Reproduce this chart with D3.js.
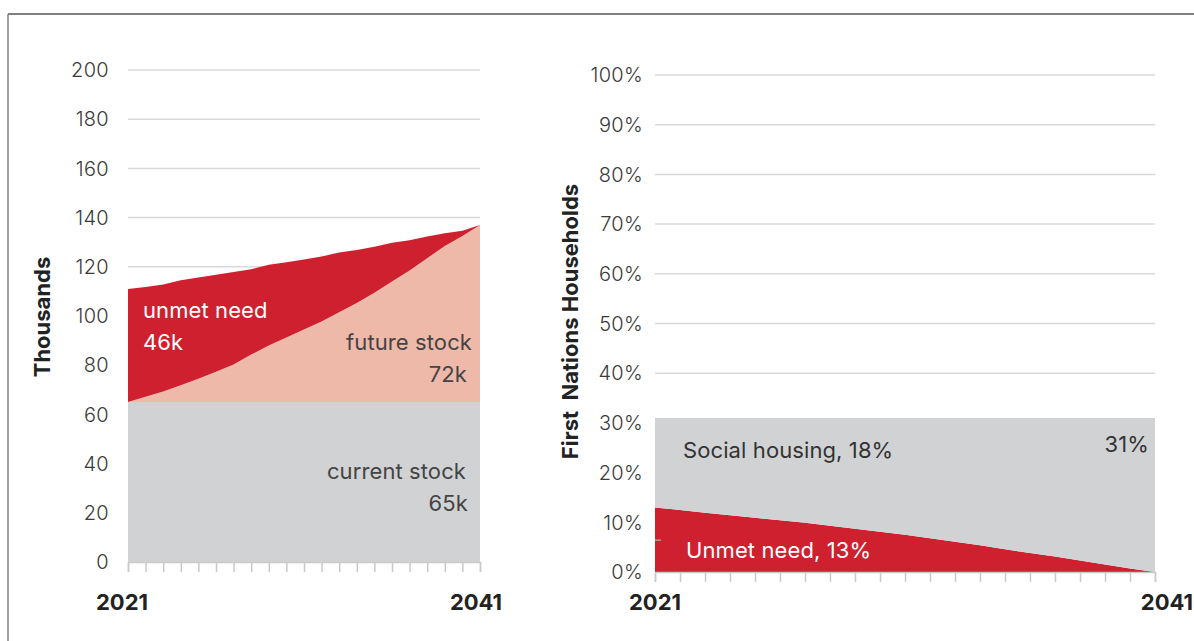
<!DOCTYPE html>
<html>
<head>
<meta charset="utf-8">
<script src="https://cdn.jsdelivr.net/npm/d3@7"></script>
<style>
  html, body { margin: 0; padding: 0; background: #fff; }
  svg { display: block; }
  text { font-family: Inter, "Open Sans", sans-serif; }
</style>
</head>
<body>
<svg id="chart" width="1194" height="641"></svg>
<script>
// Years covered by both panels
const years = d3.range(2021, 2042);

// Left panel (thousands of dwellings)
const currentStock = years.map(() => 65);
const futureStock = [0, 2.2, 4.3, 6.8, 9.5, 12.3, 15.3, 19.3, 23, 26.3, 29.5, 32.8, 36.5, 40.3, 44.5, 49, 53.5, 58.5, 63.5, 67.5, 72];
const unmetNeedK = [46, 44.6, 43.5, 42.7, 41.1, 39.5, 37.6, 34.7, 32.8, 30.6, 28.5, 26.4, 24.3, 21.5, 18.7, 15.8, 12.3, 8.8, 5.1, 2.2, 0];
const leftTicks = [0, 20, 40, 60, 80, 100, 120, 140, 160, 180, 200];

// Right panel (share of First Nations households, %)
const unmetNeedPct = [13, 12.5, 11.9, 11.4, 10.9, 10.4, 9.9, 9.3, 8.7, 8.1, 7.5, 6.8, 6.1, 5.4, 4.6, 3.8, 3.1, 2.3, 1.5, 0.7, 0];
const socialHousingPct = [18, 18.5, 19.1, 19.6, 20.1, 20.6, 21.1, 21.7, 22.3, 22.9, 23.5, 24.2, 24.9, 25.6, 26.4, 27.2, 27.9, 28.7, 29.5, 30.3, 31];
const rightTicks = [0, 10, 20, 30, 40, 50, 60, 70, 80, 90, 100];

const yearLabels = [2021, 2041];

const COLORS = {
  red: "#cf202f",
  salmon: "#efb9aa",
  grey: "#d1d2d4",
  grid: "#d9d9d9",
  tick: "#c9c9c9",
  text: "#3a3a3a"
};

const YEAR_LABEL_Y = 610;

const svg = d3.select("#chart");

// Outer frame
svg.append("line").attr("x1", 8).attr("x2", 1194).attr("y1", 14).attr("y2", 14)
  .attr("stroke", "#808080").attr("stroke-width", 2);
svg.append("line").attr("x1", 8).attr("x2", 8).attr("y1", 14).attr("y2", 641)
  .attr("stroke", "#808080").attr("stroke-width", 1.5);

function drawPanel(opts) {
  const { x, y, ticks, tickFmt, labelX } = opts;
  const g = svg.append("g");

  // gridlines
  g.append("g").selectAll("line").data(ticks.filter(t => t !== 0)).join("line")
    .attr("x1", x.range()[0]).attr("x2", x.range()[1])
    .attr("y1", d => y(d)).attr("y2", d => y(d))
    .attr("stroke", COLORS.grid).attr("stroke-width", 1.5);

  // y tick labels
  g.append("g").selectAll("text").data(ticks).join("text")
    .attr("x", labelX).attr("y", d => y(d))
    .attr("dy", "0.36em")
    .attr("text-anchor", "end")
    .attr("font-size", 20)
    .attr("font-weight", 300)
    .attr("letter-spacing", 0.3)
    .attr("fill", COLORS.text)
    .text(tickFmt);

  return g;
}

// x axis: one tick per year, labels only at the two ends
function drawXAxis(g, x, y0, labelX, anchors) {
  const axis = d3.axisBottom(x).tickValues(years).tickSize(10).tickFormat("");
  const ax = g.append("g").attr("transform", `translate(0,${y0})`).call(axis);
  ax.select(".domain").attr("stroke", COLORS.tick).attr("stroke-width", 1.5);
  ax.selectAll(".tick line").attr("stroke", COLORS.tick).attr("stroke-width", 1.5);

  g.append("g").selectAll("text").data(yearLabels).join("text")
    .attr("x", (d, i) => labelX[i])
    .attr("y", YEAR_LABEL_Y)
    .attr("text-anchor", (d, i) => anchors[i])
    .attr("font-family", "'Liberation Sans', Arial, sans-serif")
    .attr("font-size", 22)
    .attr("font-weight", 700)
    .attr("fill", "#222")
    .text(d => d);
}

const lbl = (g, x, y, txt, anchor, fill) => g.append("text")
  .attr("x", x).attr("y", y).attr("text-anchor", anchor)
  .attr("font-size", 22).attr("letter-spacing", 0.1)
  .attr("fill", fill).text(txt);

// ---------- Left panel ----------
const xL = d3.scaleLinear().domain([2021, 2041]).range([128, 480]);
const yL = d3.scaleLinear().domain([0, 200]).range([562, 70]);

const gL = drawPanel({ x: xL, y: yL, ticks: leftTicks, tickFmt: d => d, labelX: 109 });

const leftRows = years.map((yr, i) => ({
  year: yr, current: currentStock[i], future: futureStock[i], unmet: unmetNeedK[i]
}));
const leftStack = d3.stack().keys(["current", "future", "unmet"])(leftRows);
const leftFill = { current: COLORS.grey, future: COLORS.salmon, unmet: COLORS.red };
const areaL = d3.area()
  .x(d => xL(d.data.year))
  .y0(d => yL(d[0]))
  .y1(d => yL(d[1]));

gL.append("g").selectAll("path").data(leftStack).join("path")
  .attr("d", areaL)
  .attr("fill", d => leftFill[d.key]);

drawXAxis(gL, xL, yL(0), [xL(2021) - 6, xL(2041) - 4], ["middle", "middle"]);

lbl(gL, 143, 318, "unmet need", "start", "#fff");
lbl(gL, 143, 350, `${unmetNeedK[0]}k`, "start", "#fff");
lbl(gL, 472, 350, "future stock", "end", "#444");
lbl(gL, 467, 382, `${futureStock[futureStock.length - 1]}k`, "end", "#444");
lbl(gL, 466, 479, "current stock", "end", "#444");
lbl(gL, 468, 511, `${currentStock[0]}k`, "end", "#444");

gL.append("text")
  .attr("transform", `translate(50,${yL(100) + 1}) rotate(-90)`)
  .attr("text-anchor", "middle")
  .attr("font-size", 22).attr("font-weight", 700).attr("fill", "#222")
  .text("Thousands");

// ---------- Right panel ----------
const xR = d3.scaleLinear().domain([2021, 2041]).range([655, 1155]);
const yR = d3.scaleLinear().domain([0, 100]).range([572, 75]);

const gR = drawPanel({ x: xR, y: yR, ticks: rightTicks, tickFmt: d => d + "%", labelX: 643 });

const rightRows = years.map((yr, i) => ({
  year: yr, unmet: unmetNeedPct[i], social: socialHousingPct[i]
}));
const rightStack = d3.stack().keys(["unmet", "social"])(rightRows);
const rightFill = { unmet: COLORS.red, social: COLORS.grey };
const areaR = d3.area()
  .x(d => xR(d.data.year))
  .y0(d => yR(d[0]))
  .y1(d => yR(d[1]));

gR.append("g").selectAll("path").data(rightStack).join("path")
  .attr("d", areaR)
  .attr("fill", d => rightFill[d.key]);

drawXAxis(gR, xR, yR(0), [xR(2021), 1193], ["middle", "end"]);

// small leader mark at the left edge of the unmet-need band
gR.append("line")
  .attr("x1", xR(2021)).attr("x2", xR(2021) + 6)
  .attr("y1", yR(6.4)).attr("y2", yR(6.4))
  .attr("stroke", "#a0a0a0").attr("stroke-width", 1.5);

lbl(gR, 683, 458, `Social housing, ${socialHousingPct[0]}%`, "start", "#333");
lbl(gR, 1149, 452, `${socialHousingPct[socialHousingPct.length - 1]}%`, "end", "#333");
lbl(gR, 686, 558, `Unmet need, ${unmetNeedPct[0]}%`, "start", "#fff");

gR.append("text")
  .attr("transform", `translate(578,${yR(50) - 2}) rotate(-90)`)
  .attr("text-anchor", "middle")
  .attr("font-size", 22).attr("font-weight", 700).attr("fill", "#222")
  .style("white-space", "pre")
  .text("First  Nations Households");
</script>
</body>
</html>
